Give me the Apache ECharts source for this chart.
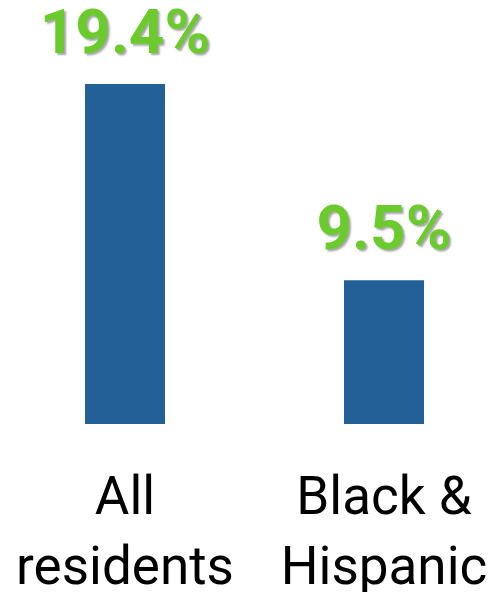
<!DOCTYPE html>
<html><head><meta charset="utf-8">
<script src="https://cdn.jsdelivr.net/npm/echarts@6/dist/echarts.min.js"></script>
<style>html,body{margin:0;padding:0;background:#fff}#c{width:495px;height:592px}</style>
</head><body><div id="c"></div>
<script>
const categories = ['All\nresidents', 'Black &\nHispanic'];
const values = [19.4, 9.5];
const valueLabels = ['19.4%', '9.5%'];

const chart = echarts.init(document.getElementById('c'));
chart.setOption({
  animation: false,
  grid: { left: -4.5, right: -18.5, top: 84, bottom: 168, containLabel: false, outerBoundsMode: 'none' },
  xAxis: {
    type: 'category', data: categories,
    axisLine: { show: false }, axisTick: { show: false },
    axisLabel: { color: '#000', fontFamily: 'Roboto', fontSize: 53, lineHeight: 70, margin: 42, interval: 0, hideOverlap: false }
  },
  yAxis: { type: 'value', min: 2.24, max: 19.4, show: false, splitLine: { show: false } },
  series: [{
    type: 'bar', data: values, barWidth: 80,
    itemStyle: { color: '#226097' },
    label: {
      show: true, position: 'top', distance: 16,
      formatter: p => valueLabels[p.dataIndex],
      color: '#6BCB2C', fontFamily: 'Roboto', fontWeight: 'bold', fontSize: 62,
      textShadowColor: 'rgba(0,0,0,0.35)', textShadowBlur: 2, textShadowOffsetX: 2, textShadowOffsetY: 2
    }
  }]
});
</script></body></html>
